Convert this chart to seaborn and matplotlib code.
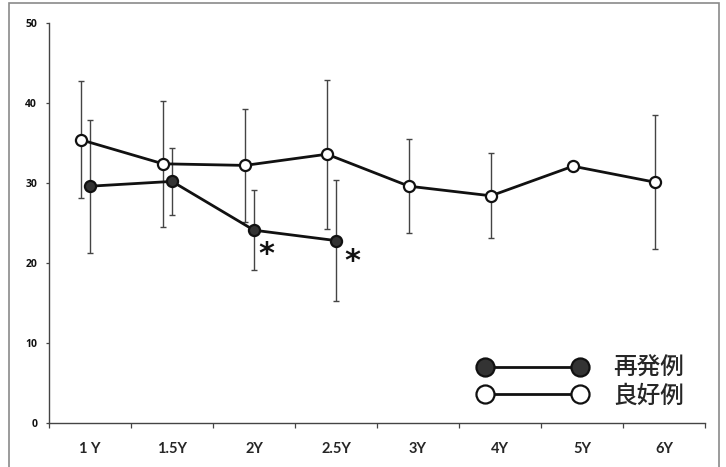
import numpy as np
import pandas as pd
import seaborn as sns
import matplotlib.pyplot as plt
from matplotlib.lines import Line2D
from matplotlib.patches import Rectangle

# ----------------- data

time_labels = ["1 Y", "1.5Y", "2Y", "2.5Y", "3Y", "4Y", "5Y", "6Y"]

# 良好例 (good outcome): mean and SD at every time point
good_mean = [35.4, 32.4, 32.2, 33.6, 29.6, 28.4, 32.1, 30.1]
good_sd = [7.3, 7.9, 7.1, 9.3, 5.9, 5.3, 0.0, 8.4]

# 再発例 (relapse): first four time points only
relapse_mean = [29.6, 30.2, 24.1, 22.8]
relapse_sd = [8.3, 4.2, 5.0, 7.6]

# time points with significant difference
sig_idx = [2, 3]

good_label = "良好例"
relapse_label = "再発例"

# ----------------- frame


def build_frame() -> pd.DataFrame:
    good = pd.DataFrame({
        "time": time_labels,
        "mean": good_mean,
        "sd": good_sd,
        "group": good_label,
    })
    relapse = pd.DataFrame({
        "time": time_labels[: len(relapse_mean)],
        "mean": relapse_mean,
        "sd": relapse_sd,
        "group": relapse_label,
    })
    df = pd.concat([relapse, good], ignore_index=True)
    df["pos"] = df["time"].map({t: i for i, t in enumerate(time_labels)})
    # the open circles sit a little left of the category centre
    df.loc[df["group"] == good_label, "pos"] -= 0.11
    return df


df = build_frame()

# ----------------- plot

sns.set_style("ticks")
plt.rcParams["font.family"] = ["Lato", "Noto Sans CJK JP", "DejaVu Sans"]

fig = plt.figure(figsize=(7.26, 4.67), dpi=100)
ax = fig.add_axes([49 / 726, 1 - 423 / 467, 656 / 726, 400 / 467])

styles = {
    relapse_label: dict(mfc="#333333", mec="#111111"),
    good_label: dict(mfc="white", mec="#111111"),
}

for grp in [good_label, relapse_label]:
    sub = df[df["group"] == grp]
    ax.errorbar(
        sub["pos"], sub["mean"], yerr=sub["sd"], fmt="none",
        ecolor="#444444", elinewidth=1.0, capsize=2.2, capthick=1.0, zorder=2,
    )
    sns.lineplot(
        data=sub, x="pos", y="mean", ax=ax, color="#111111", lw=2.0,
        marker="o", markersize=8, markeredgewidth=1.6, zorder=3,
        **styles[grp],
    )

# significance marks, placed right-below the relapse point
sig_offsets = {2: (9, -17.5), 3: (12, -15)}
for i in sig_idx:
    ax.annotate(
        "*", (i, relapse_mean[i]), xytext=sig_offsets[i],
        textcoords="offset points", ha="center", va="center",
        fontsize=22, fontweight="bold", family="DejaVu Sans", color="#111111",
    )

ax.set_xlim(-0.5, len(time_labels) - 0.5)
ax.set_ylim(0, 50)
ax.set_yticks([0, 10, 20, 30, 40, 50])
ax.set_xticks(range(len(time_labels)))
ax.set_xticklabels(time_labels, fontsize=10.5, fontweight="bold")
ax.set_xticks(np.arange(-0.5, len(time_labels), 1.0), minor=True)
ax.tick_params(axis="x", which="major", length=0, pad=14)
ax.tick_params(axis="x", which="minor", length=3.5, width=0.9, color="#444444")
ax.tick_params(axis="y", length=2.5, width=0.9, color="#444444", pad=6)
for lab in ax.get_yticklabels():
    lab.set_fontweight("bold")
    lab.set_fontsize(7.5)
    lab.set_family(["Open Sans", "DejaVu Sans"])
    lab.set_color("#111111")
ax.set_xlabel("")
ax.set_ylabel("")
sns.despine(ax=ax)
for side in ["left", "bottom"]:
    ax.spines[side].set_color("#444444")
    ax.spines[side].set_linewidth(1.0)

handles = [
    Line2D([], [], color="#111111", lw=2.0, marker="o", markersize=13,
           markeredgewidth=1.6, **styles[relapse_label]),
    Line2D([], [], color="#111111", lw=2.0, marker="o", markersize=13,
           markeredgewidth=1.6, **styles[good_label]),
]
ax.legend(
    handles, [relapse_label, good_label], numpoints=2, frameon=False,
    handlelength=4.6, handletextpad=1.1, labelspacing=0.21,
    prop={"family": ["Noto Sans CJK JP"], "size": 17, "weight": "medium"},
    loc="lower right", bbox_to_anchor=(1.0, -0.015),
)

# scanned page border
fig.patches.append(Rectangle(
    (9 / 726, -0.05), 710 / 726, 1.05 - 3 / 467, transform=fig.transFigure,
    fill=False, ec="#8a8a8a", lw=1.2,
))

fig.savefig("out.png", dpi=100)
